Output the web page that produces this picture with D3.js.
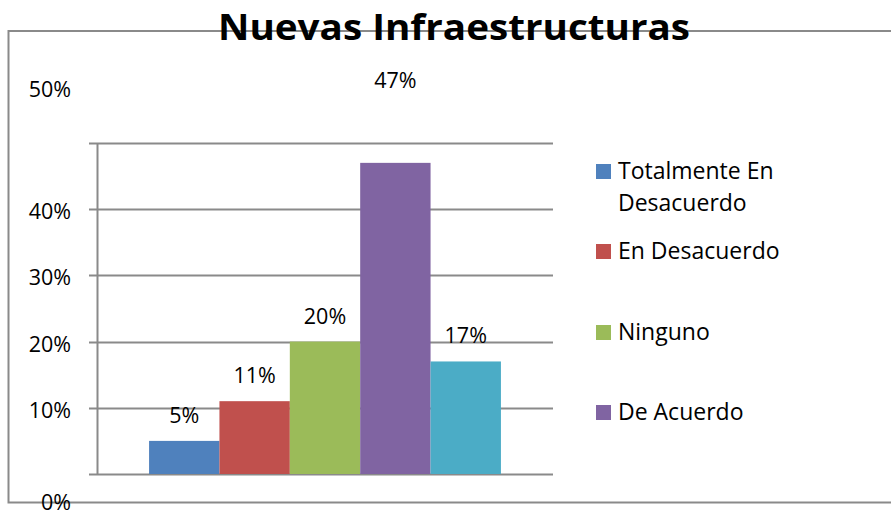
<!DOCTYPE html>
<html><head><meta charset="utf-8">
<script src="https://cdn.jsdelivr.net/npm/d3@7"></script>
<style>body{margin:0;background:#fff}svg{display:block}</style>
</head><body>
<svg id="c" width="891" height="510"></svg>
<script>
const title = "Nuevas Infraestructuras";
const categories = ["Totalmente En Desacuerdo", "En Desacuerdo", "Ninguno", "De Acuerdo", "Totalmente De Acuerdo"];
const values = [0.05, 0.11, 0.20, 0.47, 0.17];
const labels = ["5%", "11%", "20%", "47%", "17%"];
const colors = ["#4F81BD", "#C0504D", "#9BBB59", "#8064A2", "#4BACC6"];
const tickValues = [0, 0.1, 0.2, 0.3, 0.4, 0.5];
const tickLabels = ["0%", "10%", "20%", "30%", "40%", "50%"];
const legendLines = [["Totalmente En", "Desacuerdo"], ["En Desacuerdo"], ["Ninguno"], ["De Acuerdo"]];

const svg = d3.select("#c");
const FONT = "'Open Sans', sans-serif";
const grid = "#8a8a8a";

// frame
svg.append("path")
  .attr("d", "M891,31 H8.5 V502.5 H891")
  .attr("fill", "none").attr("stroke", grid).attr("stroke-width", 2);

const y = d3.scaleLinear().domain([0, 0.5]).range([474, 143]);
const x = d3.scaleBand().domain(categories).range([97, 553]).paddingInner(0).paddingOuter(0.74);

// gridlines + ticks
svg.append("g").selectAll("line").data(tickValues).join("line")
  .attr("x1", 89).attr("x2", 553)
  .attr("y1", d => Math.round(y(d)) + 0.5).attr("y2", d => Math.round(y(d)) + 0.5)
  .attr("stroke", grid).attr("stroke-width", 2);

// bars
svg.append("g").selectAll("rect").data(values).join("rect")
  .attr("x", (d, i) => x(categories[i]))
  .attr("width", x.bandwidth())
  .attr("y", d => y(d))
  .attr("height", d => y(0) - y(d))
  .attr("fill", (d, i) => colors[i]);

// y axis line
svg.append("line").attr("x1", 97.5).attr("x2", 97.5).attr("y1", y(0.5)).attr("y2", y(0) + 1)
  .attr("stroke", grid).attr("stroke-width", 2);

// tick labels (extremes displaced as in the reference)
svg.append("g").selectAll("text").data(tickValues).join("text")
  .attr("x", 71)
  .attr("y", (d, i) => {
    if (i === 0) return y(d) + 36;
    if (i === tickValues.length - 1) return y(d) - 46;
    return y(d) + 10;
  })
  .attr("text-anchor", "end")
  .attr("font-family", FONT).attr("font-size", 21.5).attr("fill", "#000")
  .text((d, i) => tickLabels[i]);

// data labels
svg.append("g").selectAll("text").data(values).join("text")
  .attr("x", (d, i) => x(categories[i]) + x.bandwidth() / 2)
  .attr("y", d => {
    const base = y(d) - 18;
    return (base - 15 < y(0.5)) ? y(d) - 75 : base;
  })
  .attr("text-anchor", "middle")
  .attr("font-family", FONT).attr("font-size", 21.5).attr("fill", "#000")
  .text((d, i) => labels[i]);

// title
svg.append("text").attr("x", 454).attr("y", 40).attr("text-anchor", "middle")
  .attr("font-family", FONT).attr("font-weight", "bold").attr("font-size", 35)
  .attr("textLength", 472).attr("lengthAdjust", "spacingAndGlyphs")
  .attr("fill", "#000").text(title);

// legend
const legendTops = [164, 244, 325, 405];
const lg = svg.append("g");
legendLines.forEach((lines, i) => {
  const top = legendTops[i];
  lg.append("rect").attr("x", 596).attr("y", top).attr("width", 15).attr("height", 15).attr("fill", colors[i]);
  lines.forEach((t, j) => {
    lg.append("text").attr("x", 618).attr("y", top + 15 + j * 32)
      .attr("font-family", FONT).attr("font-size", 23).attr("fill", "#000").text(t);
  });
});
</script>
</body></html>
